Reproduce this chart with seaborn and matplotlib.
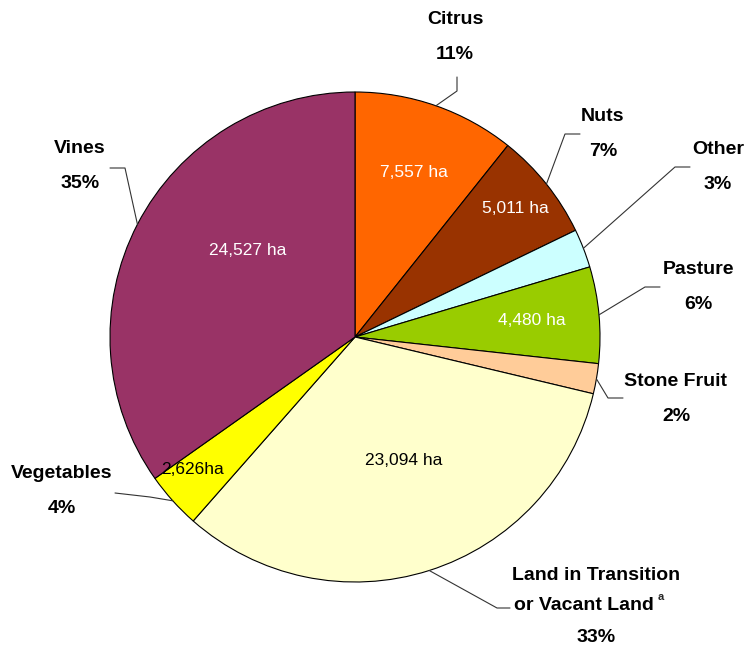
import numpy as np
import seaborn as sns
import matplotlib.pyplot as plt

categories = ["Citrus", "Nuts", "Other", "Pasture", "Stone Fruit",
              "Land in Transition\nor Vacant Land", "Vegetables", "Vines"]
hectares = [7557, 5011, 1800, 4480, 1400, 23094, 2626, 24527]
pct_labels = ["11%", "7%", "3%", "6%", "2%", "33%", "4%", "35%"]
area_labels = ["7,557 ha", "5,011 ha", "", "4,480 ha", "", "23,094 ha", "2,626ha", "24,527 ha"]
colors = ["#FF6600", "#993300", "#CCFFFF", "#99CC00", "#FFCC99",
          "#FFFFCC", "#FFFF00", "#993366"]
area_colors = ["white", "white", "black", "white", "black", "black", "black", "white"]

# layout in pixels (figure 745x651, pie centre 355,337 radius 245)
W, H, CX, CY, R = 745, 651, 355, 337, 245
label_pos = [(455, 37), (603, 134), (718, 167), (698, 287), (676, 399),
             (596, 606), (62, 491), (80, 166)]
elbow = [[(457, 77), (457, 91)], [(580, 134), (565, 134)], [(690, 167), (675, 167)],
         [(660, 287), (645, 287)], [(623, 398), (608, 398)], [(510, 608), (497, 608)],
         [(115, 493), (150, 497)], [(110, 168), (125, 168)]]
area_pos = [(414, 172), (515, 208), None, (532, 320), None, (404, 460), (193, 470), (248, 250)]


def px(x, y):
    return ((x - CX) / R, (CY - y) / R)


sns.set_style("white")
plt.rcParams['font.family'] = ['Liberation Sans', 'DejaVu Sans']
bold = dict(ha="center", va="center", fontsize=14, fontweight="bold", color="black")

fig = plt.figure(figsize=(W / 100, H / 100), dpi=100)
ax = fig.add_axes([0, 0, 1, 1])
wedges, _ = ax.pie(hectares, colors=colors, startangle=90, counterclock=False,
                   radius=1, wedgeprops=dict(edgecolor="black", linewidth=0.8))
ax.set_xlim(-CX / R, (W - CX) / R)
ax.set_ylim(-(H - CY) / R, CY / R)
ax.set_aspect("equal")
ax.axis("off")

for i, w in enumerate(wedges):
    mid = np.deg2rad((w.theta1 + w.theta2) / 2)
    edge = (np.cos(mid), np.sin(mid))
    pts = [px(*p) for p in elbow[i]] + [edge]
    xs, ys = zip(*pts)
    ax.plot(xs, ys, color="#333333", linewidth=0.8)

    lx, ly = px(*label_pos[i])
    name = categories[i]
    if "\n" in name:
        first, second = name.split("\n")
        ax.text(lx, ly + 0.125, first, **bold)
        t = ax.text(lx - 0.05, ly, second, **bold)
        ax.annotate("a", xy=(1, 1), xycoords=t, xytext=(3, 4), textcoords="offset points",
                    ha="left", va="top", fontsize=8, fontweight="bold")
        ax.text(lx, ly - 0.13, pct_labels[i], **bold)
    else:
        ax.text(lx, ly + 0.07, name, **bold)
        ax.text(lx, ly - 0.07, pct_labels[i], **bold)

    if area_pos[i] is not None:
        ax.text(*px(*area_pos[i]), area_labels[i], ha="center", va="center",
                fontsize=12.5, color=area_colors[i])

fig.savefig("out.png", dpi=100)
